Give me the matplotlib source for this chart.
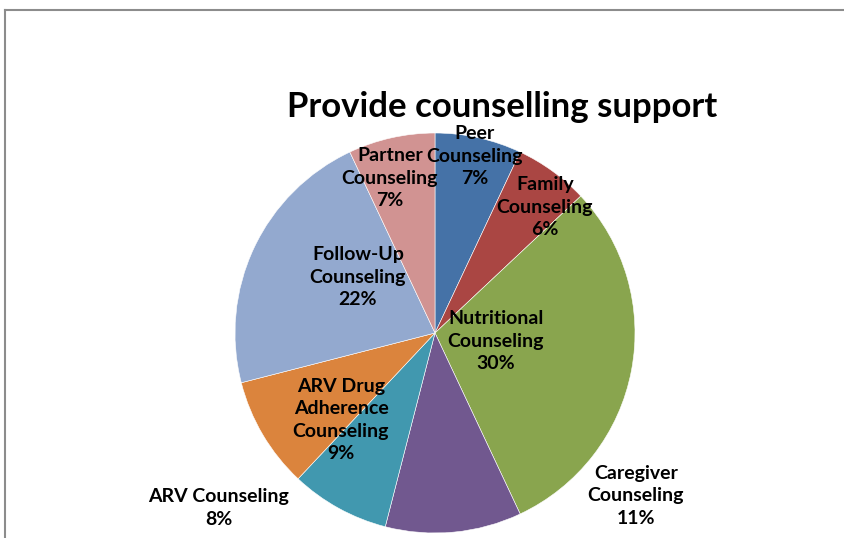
import matplotlib.pyplot as plt
from matplotlib.lines import Line2D

# Slice data, clockwise from 12 o'clock
labels = ["Peer\nCounseling", "Family\nCounseling", "Nutritional\nCounseling",
          "Caregiver\nCounseling", "ARV Counseling", "ARV Drug\nAdherence\nCounseling",
          "Follow-Up\nCounseling", "Partner\nCounseling"]
shares = [7, 6, 30, 11, 8, 9, 22, 7]
colors = ["#4572A7", "#AA4643", "#89A54E", "#71588F",
          "#4198AF", "#DB843D", "#93A9CF", "#D19392"]

# label centres, in pie-radius units
label_xy = [(0.2, 0.885), (0.55, 0.63), (0.305, -0.04), (1.005, -0.815),
            (-1.08, -0.875), (-0.47, -0.435), (-0.385, 0.28), (-0.225, 0.775)]

W, H = 845, 538
fig = plt.figure(figsize=(W / 100, H / 100), dpi=100)

# chart frame (only top and left edges visible)
fx, fy = 5 / W, 1 - 10 / H
fig.lines.append(Line2D([fx, 1.0], [fy, fy], transform=fig.transFigure, color="#8c8c8c", lw=1.5))
fig.lines.append(Line2D([fx, fx], [0.0, fy], transform=fig.transFigure, color="#8c8c8c", lw=1.5))

cx, cy, r = 435, 333, 200
ax = fig.add_axes([(cx - r) / W, (H - cy - r) / H, 2 * r / W, 2 * r / H])
ax.pie(shares, colors=colors, startangle=90, counterclock=False,
       wedgeprops=dict(linewidth=0.4, edgecolor="white"))
ax.set_xlim(-1, 1)
ax.set_ylim(-1, 1)

for lab, val, (x, y) in zip(labels, shares, label_xy):
    ax.text(x, y, f"{lab}\n{val}%", ha="center", va="center", fontsize=14,
            fontweight="bold", family="Lato", linespacing=1.36, clip_on=False)

fig.text(502 / W, 1 - 107 / H, "Provide counselling support", ha="center", va="center",
         fontsize=25, fontweight="bold", family="Lato")

fig.savefig("out.png", dpi=100)
